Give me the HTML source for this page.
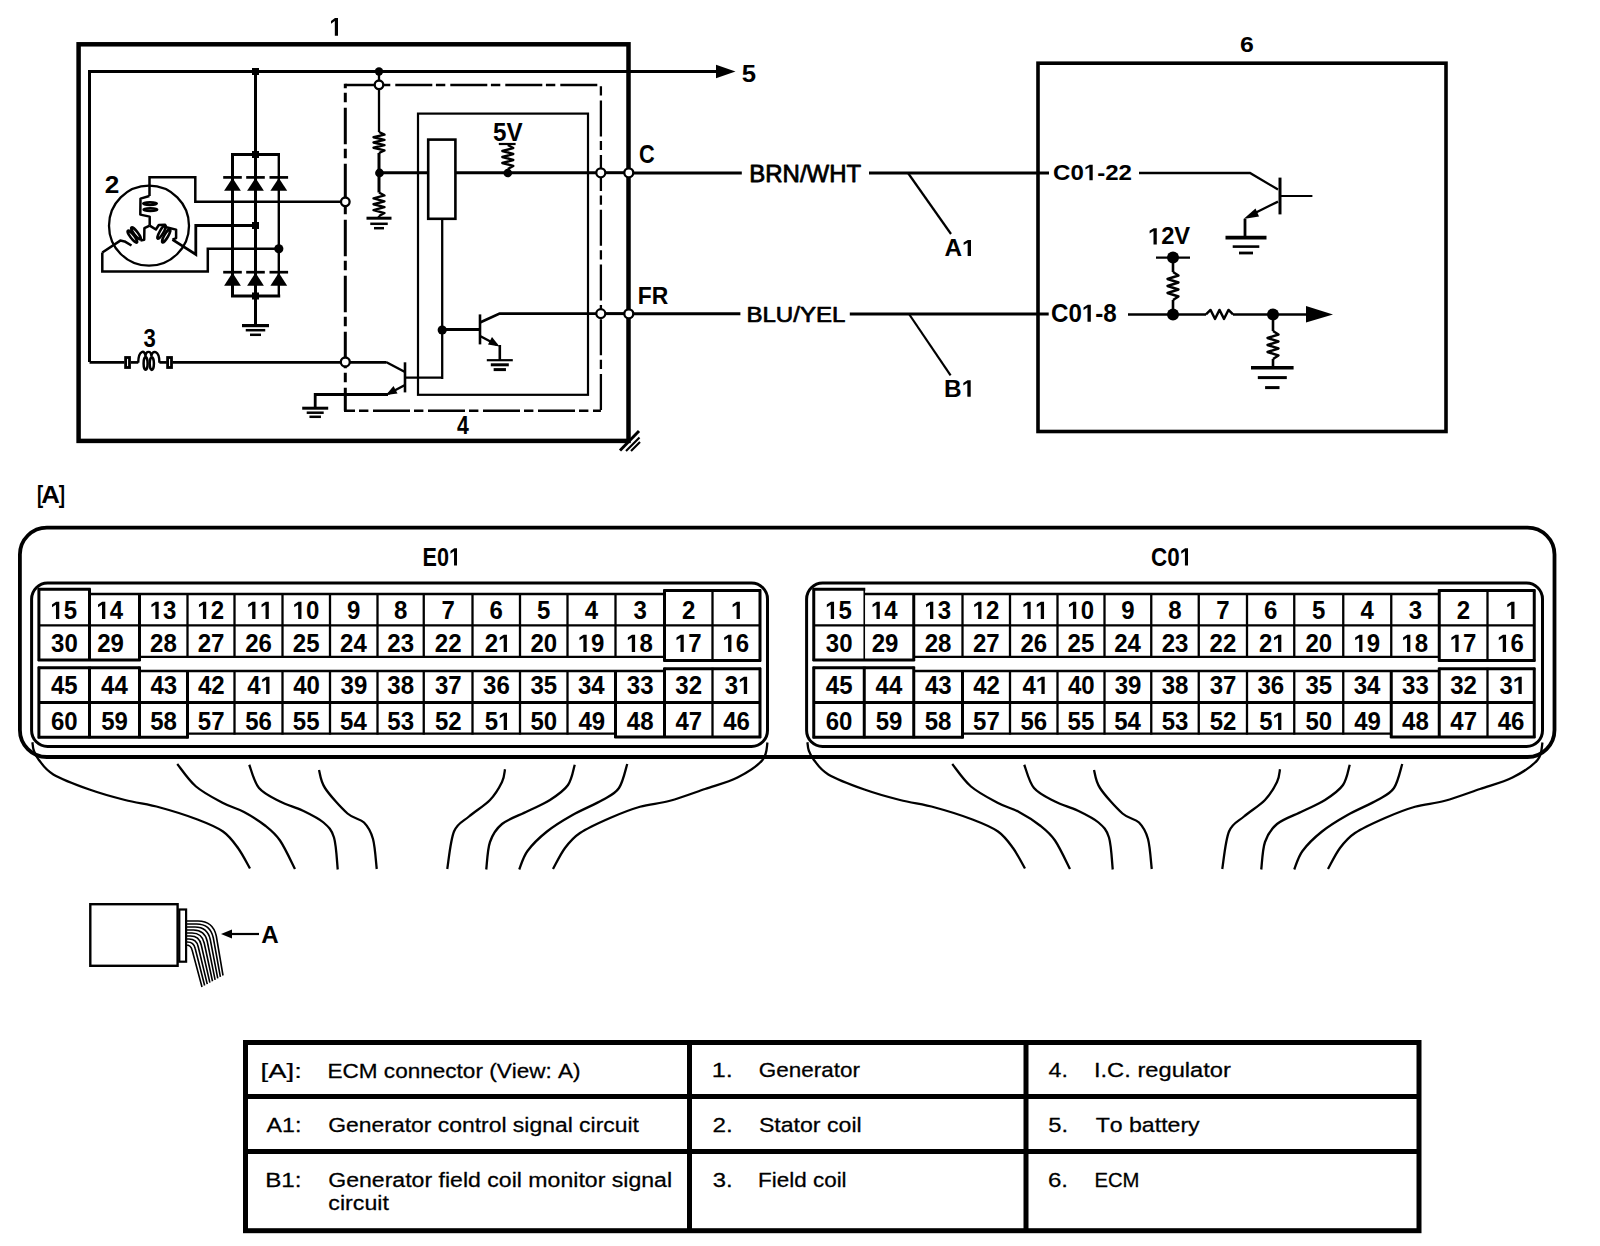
<!DOCTYPE html>
<html><head><meta charset="utf-8"><style>
html,body{margin:0;padding:0;background:#fff;width:1600px;height:1246px;overflow:hidden}
svg{display:block}
text{font-family:"Liberation Sans",sans-serif;fill:#000;stroke:none;font-kerning:none}
</style></head><body>
<svg width="1600" height="1246" viewBox="0 0 1600 1246" stroke="#000" fill="none">
<rect x="0" y="0" width="1600" height="1246" fill="#fff" stroke="none"/>
<rect x="78.6" y="44.3" width="549.9" height="396.6" stroke-width="4.5" rx="0" fill="none"/>
<g transform="translate(329.42 35.80) scale(0.8952 1)"><path d="M478 0V1170L140 959V1180L493 1409H759V0Z" transform="translate(0.00 0) scale(0.01263 -0.01263)" fill="#000" stroke="none"/></g>
<polyline points="89.5,362 89.5,71.5 718,71.5" stroke-width="3" stroke-linejoin="miter"/>
<polygon points="716,64.8 735.5,71.5 716,78.2" fill="#000" stroke="none"/>
<text x="0" y="0" font-size="24.65" font-weight="bold" transform="translate(741.71 81.76) scale(1.0436 1)">5</text>
<rect x="252" y="68" width="7" height="7" fill="#000" stroke="none"/>
<line x1="255.5" y1="71.5" x2="255.5" y2="154.5" stroke-width="3" stroke-linecap="butt"/>
<line x1="231" y1="154.5" x2="280" y2="154.5" stroke-width="3" stroke-linecap="butt"/>
<rect x="252" y="151" width="7" height="7" fill="#000" stroke="none"/>
<line x1="232.5" y1="154.5" x2="232.5" y2="296" stroke-width="3" stroke-linecap="butt"/>
<line x1="255.5" y1="154.5" x2="255.5" y2="325.5" stroke-width="3" stroke-linecap="butt"/>
<line x1="278.8" y1="154.5" x2="278.8" y2="296" stroke-width="2.4" stroke-linecap="butt"/>
<line x1="223.2" y1="177.4" x2="241.8" y2="177.4" stroke-width="2.7" stroke-linecap="butt"/>
<polygon points="232.5,178 224.1,190.8 240.9,190.8" fill="#000" stroke="none"/>
<line x1="223.2" y1="272.2" x2="241.8" y2="272.2" stroke-width="2.7" stroke-linecap="butt"/>
<polygon points="232.5,272.8 224.1,285.8 240.9,285.8" fill="#000" stroke="none"/>
<line x1="246.2" y1="177.4" x2="264.8" y2="177.4" stroke-width="2.7" stroke-linecap="butt"/>
<polygon points="255.5,178 247.1,190.8 263.9,190.8" fill="#000" stroke="none"/>
<line x1="246.2" y1="272.2" x2="264.8" y2="272.2" stroke-width="2.7" stroke-linecap="butt"/>
<polygon points="255.5,272.8 247.1,285.8 263.9,285.8" fill="#000" stroke="none"/>
<line x1="269.5" y1="177.4" x2="288.1" y2="177.4" stroke-width="2.7" stroke-linecap="butt"/>
<polygon points="278.8,178 270.4,190.8 287.2,190.8" fill="#000" stroke="none"/>
<line x1="269.5" y1="272.2" x2="288.1" y2="272.2" stroke-width="2.7" stroke-linecap="butt"/>
<polygon points="278.8,272.8 270.4,285.8 287.2,285.8" fill="#000" stroke="none"/>
<line x1="231" y1="296" x2="280.2" y2="296" stroke-width="3" stroke-linecap="butt"/>
<rect x="252" y="292.5" width="7" height="7" fill="#000" stroke="none"/>
<line x1="242" y1="325.6" x2="269" y2="325.6" stroke-width="3.2" stroke-linecap="butt"/>
<line x1="245.75" y1="330.2" x2="265.25" y2="330.2" stroke-width="2.5" stroke-linecap="butt"/>
<line x1="250" y1="334.8" x2="261" y2="334.8" stroke-width="2.5" stroke-linecap="butt"/>
<circle cx="149" cy="225.7" r="40" fill="none" stroke-width="2.3"/>
<text x="0" y="0" font-size="23.92" font-weight="bold" transform="translate(104.69 192.90) scale(1.0942 1)">2</text>
<polyline points="149.5,196 149.5,177.2 195.3,177.2 195.3,201.8 341,201.8" stroke-width="2.5" stroke-linejoin="miter"/>
<polyline points="172.5,239.6 195.8,254.4 195.8,225.5 255.5,225.5" stroke-width="2.8" stroke-linejoin="miter"/>
<rect x="252" y="222" width="7" height="7" fill="#000" stroke="none"/>
<polyline points="102.3,252.5 102.3,271.6 207.8,271.6 207.8,248.8 278.8,248.8" stroke-width="2.5" stroke-linejoin="miter"/>
<circle cx="278.8" cy="248.8" r="4.6" fill="#000" stroke="none"/>
<path d="M149.4,196 L140.5,198.6 L140.3,214.6 L149.7,216.6 L149.7,225.6" stroke-width="2.5" fill="none" stroke-linejoin="round"/>
<ellipse cx="150" cy="203.6" rx="6.8" ry="1.3" fill="none" stroke-width="2.5"/>
<ellipse cx="150.4" cy="209.6" rx="6.8" ry="1.4" fill="none" stroke-width="2.5"/>
<path d="M149.7,225.6 L144.4,228.2 L144.2,239.8 L140.5,240.5" stroke-width="2.5" fill="none" stroke-linejoin="round"/>
<ellipse cx="132.4" cy="236.6" rx="7.4" ry="1.9" transform="rotate(52 132.4 236.6)" fill="none" stroke-width="2.6"/>
<ellipse cx="136" cy="233.4" rx="7.4" ry="1.9" transform="rotate(52 136 233.4)" fill="none" stroke-width="2.6"/>
<path d="M131.5,245.5 L124.6,241.4 L120.3,240.6 L102.3,252.5" stroke-width="2.5" fill="none" stroke-linejoin="round"/>
<path d="M149.7,225.6 L155.9,229.5 L158.8,225 L165,224.8 L165.3,227 L176.1,229.6 L176.1,238.1 L172.5,239.6" stroke-width="2.5" fill="none" stroke-linejoin="round"/>
<ellipse cx="161.6" cy="232" rx="7.6" ry="1.9" transform="rotate(-60 161.6 232)" fill="none" stroke-width="2.6"/>
<ellipse cx="166.2" cy="235.8" rx="7.6" ry="1.9" transform="rotate(-60 166.2 235.8)" fill="none" stroke-width="2.6"/>
<polyline points="89.5,362.4 124.5,362.4" stroke-width="2.8" stroke-linejoin="miter"/>
<rect x="125.6" y="357.5" width="3.9" height="10" stroke-width="2.8" rx="0" fill="none"/>
<line x1="131" y1="362.4" x2="138.3" y2="362.4" stroke-width="2.7" stroke-linecap="butt"/>
<path d="M138.2,362.8 C138.4,349.5 145.2,349.5 145.5,356.5 C145.8,350.3 151.2,350.3 151.4,356.5 C151.8,349.5 159.6,350 159.4,362.8" stroke-width="2.4" fill="none" />
<ellipse cx="145.6" cy="363.4" rx="2.0" ry="6.3" fill="none" stroke-width="2.5"/>
<ellipse cx="151.8" cy="363.6" rx="2.1" ry="6.3" fill="none" stroke-width="2.5"/>
<line x1="159.4" y1="362.4" x2="166.8" y2="362.4" stroke-width="2.7" stroke-linecap="butt"/>
<rect x="167.6" y="357.5" width="3.9" height="10" stroke-width="2.8" rx="0" fill="none"/>
<line x1="172.5" y1="362.4" x2="386" y2="362.4" stroke-width="2.6" stroke-linecap="butt"/>
<text x="0" y="0" font-size="25.37" font-weight="bold" transform="translate(143.49 346.72) scale(0.8722 1)">3</text>
<path d="M345.3,85 H600.9" stroke-width="2.5" stroke-dasharray="37 3.6 9.4 5" stroke-dashoffset="5"/>
<path d="M345.3,83.8 V410.7" stroke-width="3" stroke-dasharray="36.4 4.6 9.4 5.6" stroke-dashoffset="32"/>
<path d="M600.9,85 V410.7" stroke-width="2.3" stroke-dasharray="36 4.5 9.2 5" stroke-dashoffset="39.3"/>
<path d="M344,410.7 H600.9" stroke-width="2.6" stroke-dasharray="37 4 9.4 4.6" stroke-dashoffset="26"/>
<circle cx="345.3" cy="201.8" r="4.3" fill="#fff" stroke-width="2.3"/>
<circle cx="345.3" cy="362" r="4.5" fill="#fff" stroke-width="2.3"/>
<rect x="418" y="113.6" width="170" height="281.2" stroke-width="2.2" rx="0" fill="none"/>
<line x1="379" y1="71.5" x2="379" y2="81" stroke-width="2.3" stroke-linecap="butt"/>
<circle cx="379" cy="71.5" r="4.2" fill="#000" stroke="none"/>
<circle cx="379" cy="84.8" r="4.3" fill="#fff" stroke-width="2.3"/>
<line x1="379" y1="89" x2="379" y2="132" stroke-width="2.3" stroke-linecap="butt"/>
<polyline points="379,132 384.5,134.62 373.5,137.25 384.5,139.88 373.5,142.5 384.5,145.12 373.5,147.75 384.5,150.38 379,153" stroke-width="2.4" stroke-linejoin="round"/>
<line x1="379" y1="153" x2="379" y2="192.5" stroke-width="3" stroke-linecap="butt"/>
<circle cx="379.5" cy="173" r="4.4" fill="#000" stroke="none"/>
<polyline points="379,192.5 384.5,195.44 373.5,198.38 384.5,201.31 373.5,204.25 384.5,207.19 373.5,210.12 384.5,213.06 379,216" stroke-width="2.4" stroke-linejoin="round"/>
<line x1="379" y1="216" x2="379" y2="218" stroke-width="2.5" stroke-linecap="butt"/>
<line x1="366.5" y1="218.2" x2="391.5" y2="218.2" stroke-width="3" stroke-linecap="butt"/>
<line x1="370.25" y1="223.8" x2="387.75" y2="223.8" stroke-width="2.5" stroke-linecap="butt"/>
<line x1="374" y1="228.2" x2="384" y2="228.2" stroke-width="2.5" stroke-linecap="butt"/>
<line x1="379" y1="172.7" x2="428" y2="172.7" stroke-width="3" stroke-linecap="butt"/>
<rect x="428.2" y="139.6" width="27.2" height="79.2" stroke-width="2.6" rx="0" fill="none"/>
<line x1="455.5" y1="172.7" x2="596" y2="172.7" stroke-width="3" stroke-linecap="butt"/>
<line x1="605.3" y1="172.7" x2="624.2" y2="172.7" stroke-width="3" stroke-linecap="butt"/>
<line x1="633.3" y1="172.9" x2="741.8" y2="172.9" stroke-width="3" stroke-linecap="butt"/>
<circle cx="507.8" cy="173" r="4.3" fill="#000" stroke="none"/>
<polyline points="507.8,145 513.3,148 502.3,151 513.3,154 502.3,157 513.3,160 502.3,163 513.3,166 507.8,169" stroke-width="2.4" stroke-linejoin="round"/>
<line x1="498.8" y1="144" x2="515.6" y2="144" stroke-width="2.2" stroke-linecap="butt"/>
<text x="0" y="0" font-size="25.22" font-weight="bold" transform="translate(493.06 140.95) scale(0.9597 1)">5V</text>
<circle cx="600.8" cy="172.8" r="4.5" fill="#fff" stroke-width="2.2"/>
<circle cx="628.8" cy="172.8" r="4.5" fill="#fff" stroke-width="2.3"/>
<text x="0" y="0" font-size="25.42" font-weight="bold" transform="translate(638.91 162.75) scale(0.8543 1)">C</text>
<line x1="442.2" y1="218.8" x2="442.2" y2="379" stroke-width="2.3" stroke-linecap="butt"/>
<circle cx="442.2" cy="330" r="4.6" fill="#000" stroke="none"/>
<line x1="442.2" y1="329.5" x2="480" y2="329.5" stroke-width="3" stroke-linecap="butt"/>
<line x1="480" y1="314.4" x2="480" y2="344.4" stroke-width="2.6" stroke-linecap="butt"/>
<polyline points="480,322.5 499.6,313.6 596,313.6" stroke-width="2.8" stroke-linejoin="miter"/>
<line x1="605.3" y1="313.6" x2="624.2" y2="313.6" stroke-width="3" stroke-linecap="butt"/>
<line x1="633.3" y1="313.8" x2="740.4" y2="313.8" stroke-width="3" stroke-linecap="butt"/>
<circle cx="600.8" cy="313.6" r="4.5" fill="#fff" stroke-width="2.2"/>
<circle cx="628.8" cy="313.8" r="4.5" fill="#fff" stroke-width="2.3"/>
<text x="0" y="0" font-size="23.40" font-weight="bold" transform="translate(637.77 303.60) scale(0.9777 1)">FR</text>
<line x1="480" y1="336" x2="497" y2="345" stroke-width="2.5" stroke-linecap="butt"/>
<polygon points="499.5,346.5 488,344.5 492,337" fill="#000" stroke="none"/>
<line x1="499.8" y1="345" x2="499.8" y2="360" stroke-width="2.6" stroke-linecap="butt"/>
<line x1="486.8" y1="360.2" x2="512.8" y2="360.2" stroke-width="2.2" stroke-linecap="butt"/>
<line x1="490.8" y1="364.8" x2="508.8" y2="364.8" stroke-width="3" stroke-linecap="butt"/>
<line x1="493.65" y1="369.6" x2="505.95" y2="369.6" stroke-width="3" stroke-linecap="butt"/>
<line x1="405" y1="362.3" x2="405" y2="392.4" stroke-width="2.6" stroke-linecap="butt"/>
<polyline points="386,362 405,372" stroke-width="2.5" stroke-linejoin="miter"/>
<line x1="405" y1="377.7" x2="442.2" y2="377.7" stroke-width="2.3" stroke-linecap="butt"/>
<line x1="405" y1="385" x2="388" y2="394" stroke-width="2.5" stroke-linecap="butt"/>
<polygon points="386,395 397.5,393.5 393.5,386" fill="#000" stroke="none"/>
<polyline points="388,394.5 315.2,394.5 315.2,408" stroke-width="2.8" stroke-linejoin="miter"/>
<line x1="302.2" y1="408.2" x2="328.2" y2="408.2" stroke-width="3" stroke-linecap="butt"/>
<line x1="306.7" y1="412.7" x2="323.7" y2="412.7" stroke-width="2.5" stroke-linecap="butt"/>
<line x1="309.45" y1="416.8" x2="320.95" y2="416.8" stroke-width="2.5" stroke-linecap="butt"/>
<text x="0" y="0" font-size="25.87" font-weight="bold" transform="translate(457.08 433.80) scale(0.8226 1)">4</text>
<line x1="620" y1="450.5" x2="639" y2="431" stroke-width="3" stroke-linecap="butt"/>
<line x1="626" y1="451" x2="639.5" y2="437.5" stroke-width="2.2" stroke-linecap="butt"/>
<line x1="631" y1="451" x2="640" y2="442" stroke-width="2.2" stroke-linecap="butt"/>
<text x="0" y="0" font-size="24.78" font-weight="normal" style="stroke:#000;stroke-width:0.83;stroke-linejoin:round" transform="translate(749.33 182.36) scale(0.9669 1)">BRN/WHT</text>
<line x1="869" y1="173" x2="1049" y2="173" stroke-width="3" stroke-linecap="butt"/>
<line x1="908" y1="173" x2="951" y2="234" stroke-width="2.2" stroke-linecap="butt"/>
<g transform="translate(944.39 256.00) scale(1.0469 1)"><text x="0.00" y="0" font-size="23.26" font-weight="bold">A</text><path d="M478 0V1170L140 959V1180L493 1409H759V0Z" transform="translate(16.79 0) scale(0.01136 -0.01136)" fill="#000" stroke="none"/></g>
<text x="0" y="0" font-size="22.06" font-weight="normal" style="stroke:#000;stroke-width:0.73;stroke-linejoin:round" transform="translate(746.43 322.38) scale(1.0908 1)">BLU/YEL</text>
<line x1="849.8" y1="314" x2="1048.7" y2="314" stroke-width="3" stroke-linecap="butt"/>
<line x1="909" y1="314" x2="950.6" y2="375.3" stroke-width="2.2" stroke-linecap="butt"/>
<g transform="translate(944.07 396.80) scale(1.0100 1)"><text x="0.00" y="0" font-size="24.13" font-weight="bold">B</text><path d="M478 0V1170L140 959V1180L493 1409H759V0Z" transform="translate(17.42 0) scale(0.01178 -0.01178)" fill="#000" stroke="none"/></g>
<rect x="1038" y="63.2" width="408" height="368.3" stroke-width="3.6" rx="0" fill="none"/>
<text x="0" y="0" font-size="21.19" font-weight="bold" transform="translate(1240.09 51.79) scale(1.1717 1)">6</text>
<g transform="translate(1053.01 180.18) scale(1.0652 1)"><text x="0.00 16.32 41.46 48.98 61.55" y="0" font-size="22.60" font-weight="bold">C0-22</text><path d="M478 0V1170L140 959V1180L493 1409H759V0Z" transform="translate(28.89 0) scale(0.01103 -0.01103)" fill="#000" stroke="none"/></g>
<polyline points="1139,173 1250,173 1278,189.5" stroke-width="2.3" stroke-linejoin="miter"/>
<line x1="1280" y1="177.6" x2="1280" y2="214.4" stroke-width="3" stroke-linecap="butt"/>
<line x1="1280" y1="196" x2="1312.4" y2="196" stroke-width="2.2" stroke-linecap="butt"/>
<line x1="1278" y1="201.6" x2="1252" y2="214.5" stroke-width="2.3" stroke-linecap="butt"/>
<polygon points="1243.5,219 1255.5,208.5 1259,216.5" fill="#000" stroke="none"/>
<line x1="1245" y1="219" x2="1245" y2="237.6" stroke-width="2.8" stroke-linecap="butt"/>
<line x1="1225.5" y1="237.6" x2="1266.5" y2="237.6" stroke-width="3.6" stroke-linecap="butt"/>
<line x1="1232.7" y1="246.6" x2="1259.3" y2="246.6" stroke-width="2.6" stroke-linecap="butt"/>
<line x1="1239" y1="253" x2="1253" y2="253" stroke-width="2.8" stroke-linecap="butt"/>
<g transform="translate(1147.98 244.40) scale(1.0094 1)"><text x="13.06 26.13" y="0" font-size="23.49" font-weight="bold">2V</text><path d="M478 0V1170L140 959V1180L493 1409H759V0Z" transform="translate(0.00 0) scale(0.01147 -0.01147)" fill="#000" stroke="none"/></g>
<line x1="1156" y1="257.6" x2="1190" y2="257.6" stroke-width="2.1" stroke-linecap="butt"/>
<circle cx="1173" cy="257.6" r="6" fill="#000" stroke="none"/>
<line x1="1173" y1="257.6" x2="1173" y2="272" stroke-width="2.6" stroke-linecap="butt"/>
<polyline points="1173,272 1178.5,275.5 1167.5,279 1178.5,282.5 1167.5,286 1178.5,289.5 1167.5,293 1178.5,296.5 1173,300" stroke-width="2.4" stroke-linejoin="round"/>
<line x1="1173" y1="300" x2="1173" y2="314" stroke-width="2.6" stroke-linecap="butt"/>
<g transform="translate(1051.01 321.76) scale(0.9709 1)"><text x="0.00 17.95 45.60 53.88" y="0" font-size="24.86" font-weight="bold">C0-8</text><path d="M478 0V1170L140 959V1180L493 1409H759V0Z" transform="translate(31.78 0) scale(0.01214 -0.01214)" fill="#000" stroke="none"/></g>
<line x1="1128" y1="314.4" x2="1206" y2="314.4" stroke-width="2.5" stroke-linecap="butt"/>
<polyline points="1206,314.4 1210.5,309.9 1215,318.9 1219.5,309.9 1224,318.9 1228.5,309.9 1233,314.4" stroke-width="2.4" stroke-linejoin="round"/>
<line x1="1233" y1="314.4" x2="1307" y2="314.4" stroke-width="2.5" stroke-linecap="butt"/>
<polygon points="1306,306 1333,314.4 1306,322.4" fill="#000" stroke="none"/>
<circle cx="1173" cy="314.4" r="6" fill="#000" stroke="none"/>
<circle cx="1273" cy="314.4" r="6" fill="#000" stroke="none"/>
<line x1="1273" y1="314.4" x2="1273" y2="331" stroke-width="2.6" stroke-linecap="butt"/>
<polyline points="1273,331 1278.5,334.5 1267.5,338 1278.5,341.5 1267.5,345 1278.5,348.5 1267.5,352 1278.5,355.5 1273,359" stroke-width="2.4" stroke-linejoin="round"/>
<line x1="1273" y1="359" x2="1273" y2="368" stroke-width="2.6" stroke-linecap="butt"/>
<line x1="1251" y1="367.8" x2="1293.6" y2="367.8" stroke-width="3.6" stroke-linecap="butt"/>
<line x1="1257.8" y1="377.6" x2="1286.8" y2="377.6" stroke-width="3" stroke-linecap="butt"/>
<line x1="1265.1" y1="387.6" x2="1279.5" y2="387.6" stroke-width="3" stroke-linecap="butt"/>
<text x="0" y="0" font-size="23.39" font-weight="bold" transform="translate(36.96 502.95) scale(0.7917 1)">[</text>
<text x="0" y="0" font-size="24.42" font-weight="bold" transform="translate(41.26 503.10) scale(1.0560 1)">A</text>
<text x="0" y="0" font-size="23.39" font-weight="bold" transform="translate(58.77 502.95) scale(0.8078 1)">]</text>
<rect x="19.9" y="527.6" width="1534.6" height="229.4" stroke-width="3.8" rx="27" fill="none"/>
<g transform="translate(422.55 565.55) scale(0.8597 1)"><text x="0.00 16.77" y="0" font-size="25.14" font-weight="bold">E0</text><path d="M478 0V1170L140 959V1180L493 1409H759V0Z" transform="translate(30.75 0) scale(0.01228 -0.01228)" fill="#000" stroke="none"/></g>
<g transform="translate(1151.08 565.55) scale(0.8906 1)"><text x="0.00 18.16" y="0" font-size="25.14" font-weight="bold">C0</text><path d="M478 0V1170L140 959V1180L493 1409H759V0Z" transform="translate(32.14 0) scale(0.01228 -0.01228)" fill="#000" stroke="none"/></g>
<rect x="31.6" y="583" width="735.9" height="163.4" stroke-width="3" rx="16" fill="none"/>
<line x1="37.9" y1="589.3" x2="90.5" y2="589.3" stroke-width="3" stroke-linecap="butt"/>
<line x1="89.5" y1="594" x2="664.5" y2="594" stroke-width="2.3" stroke-linecap="butt"/>
<line x1="663.5" y1="590.5" x2="761" y2="590.5" stroke-width="3" stroke-linecap="butt"/>
<line x1="38.9" y1="625.3" x2="760" y2="625.3" stroke-width="2.3" stroke-linecap="butt"/>
<line x1="37.9" y1="660" x2="140.5" y2="660" stroke-width="3" stroke-linecap="butt"/>
<line x1="139.5" y1="656.8" x2="664.5" y2="656.8" stroke-width="2.3" stroke-linecap="butt"/>
<line x1="663.5" y1="660.5" x2="761" y2="660.5" stroke-width="3" stroke-linecap="butt"/>
<line x1="38.9" y1="588.3" x2="38.9" y2="661" stroke-width="3" stroke-linecap="butt"/>
<line x1="89.5" y1="588.3" x2="89.5" y2="661" stroke-width="3" stroke-linecap="butt"/>
<line x1="139.5" y1="593" x2="139.5" y2="661" stroke-width="3" stroke-linecap="butt"/>
<line x1="187.5" y1="593" x2="187.5" y2="657.8" stroke-width="2.3" stroke-linecap="butt"/>
<line x1="234.5" y1="593" x2="234.5" y2="657.8" stroke-width="2.3" stroke-linecap="butt"/>
<line x1="282.5" y1="593" x2="282.5" y2="657.8" stroke-width="2.3" stroke-linecap="butt"/>
<line x1="330" y1="593" x2="330" y2="657.8" stroke-width="2.3" stroke-linecap="butt"/>
<line x1="377.5" y1="593" x2="377.5" y2="657.8" stroke-width="2.3" stroke-linecap="butt"/>
<line x1="423.75" y1="593" x2="423.75" y2="657.8" stroke-width="2.3" stroke-linecap="butt"/>
<line x1="472.5" y1="593" x2="472.5" y2="657.8" stroke-width="2.3" stroke-linecap="butt"/>
<line x1="520" y1="593" x2="520" y2="657.8" stroke-width="2.3" stroke-linecap="butt"/>
<line x1="567.5" y1="593" x2="567.5" y2="657.8" stroke-width="2.3" stroke-linecap="butt"/>
<line x1="615.5" y1="593" x2="615.5" y2="657.8" stroke-width="2.3" stroke-linecap="butt"/>
<line x1="664.5" y1="589.5" x2="664.5" y2="661.5" stroke-width="3" stroke-linecap="butt"/>
<line x1="712.5" y1="589.5" x2="712.5" y2="661.5" stroke-width="2.3" stroke-linecap="butt"/>
<line x1="760" y1="589.5" x2="760" y2="661.5" stroke-width="3" stroke-linecap="butt"/>
<line x1="37.9" y1="667.7" x2="140.5" y2="667.7" stroke-width="3" stroke-linecap="butt"/>
<line x1="139.5" y1="671" x2="664.5" y2="671" stroke-width="2.3" stroke-linecap="butt"/>
<line x1="663.5" y1="668.8" x2="761" y2="668.8" stroke-width="3" stroke-linecap="butt"/>
<line x1="38.9" y1="702.6" x2="760" y2="702.6" stroke-width="3" stroke-linecap="butt"/>
<line x1="37.9" y1="737.3" x2="188.5" y2="737.3" stroke-width="3" stroke-linecap="butt"/>
<line x1="187.5" y1="733.6" x2="615.5" y2="733.6" stroke-width="2.3" stroke-linecap="butt"/>
<line x1="614.5" y1="737" x2="761" y2="737" stroke-width="3" stroke-linecap="butt"/>
<line x1="38.9" y1="666.7" x2="38.9" y2="738.3" stroke-width="3" stroke-linecap="butt"/>
<line x1="89.5" y1="666.7" x2="89.5" y2="738.3" stroke-width="3" stroke-linecap="butt"/>
<line x1="139.5" y1="666.7" x2="139.5" y2="738.3" stroke-width="3" stroke-linecap="butt"/>
<line x1="187.5" y1="670" x2="187.5" y2="738.3" stroke-width="3" stroke-linecap="butt"/>
<line x1="234.5" y1="670" x2="234.5" y2="734.6" stroke-width="2.3" stroke-linecap="butt"/>
<line x1="282.5" y1="670" x2="282.5" y2="734.6" stroke-width="2.3" stroke-linecap="butt"/>
<line x1="330" y1="670" x2="330" y2="734.6" stroke-width="2.3" stroke-linecap="butt"/>
<line x1="377.5" y1="670" x2="377.5" y2="734.6" stroke-width="2.3" stroke-linecap="butt"/>
<line x1="423.75" y1="670" x2="423.75" y2="734.6" stroke-width="2.3" stroke-linecap="butt"/>
<line x1="472.5" y1="670" x2="472.5" y2="734.6" stroke-width="2.3" stroke-linecap="butt"/>
<line x1="520" y1="670" x2="520" y2="734.6" stroke-width="2.3" stroke-linecap="butt"/>
<line x1="567.5" y1="670" x2="567.5" y2="734.6" stroke-width="2.3" stroke-linecap="butt"/>
<line x1="615.5" y1="670" x2="615.5" y2="738" stroke-width="3" stroke-linecap="butt"/>
<line x1="664.5" y1="667.8" x2="664.5" y2="738" stroke-width="3" stroke-linecap="butt"/>
<line x1="712.5" y1="667.8" x2="712.5" y2="738" stroke-width="2.3" stroke-linecap="butt"/>
<line x1="760" y1="667.8" x2="760" y2="738" stroke-width="3" stroke-linecap="butt"/>
<g transform="translate(50.37 619.00) scale(0.9600 1)"><text x="13.90" y="0" font-size="25.00" font-weight="bold">5</text><path d="M478 0V1170L140 959V1180L493 1409H759V0Z" transform="translate(0.00 0) scale(0.01221 -0.01221)" fill="#000" stroke="none"/></g>
<g transform="translate(96.40 619.00) scale(0.9600 1)"><text x="13.90" y="0" font-size="25.00" font-weight="bold">4</text><path d="M478 0V1170L140 959V1180L493 1409H759V0Z" transform="translate(0.00 0) scale(0.01221 -0.01221)" fill="#000" stroke="none"/></g>
<g transform="translate(149.77 619.00) scale(0.9600 1)"><text x="13.90" y="0" font-size="25.00" font-weight="bold">3</text><path d="M478 0V1170L140 959V1180L493 1409H759V0Z" transform="translate(0.00 0) scale(0.01221 -0.01221)" fill="#000" stroke="none"/></g>
<g transform="translate(197.31 619.00) scale(0.9600 1)"><text x="13.90" y="0" font-size="25.00" font-weight="bold">2</text><path d="M478 0V1170L140 959V1180L493 1409H759V0Z" transform="translate(0.00 0) scale(0.01221 -0.01221)" fill="#000" stroke="none"/></g>
<g transform="translate(246.56 619.00) scale(0.9600 1)"><path d="M478 0V1170L140 959V1180L493 1409H759V0Z" transform="translate(0.00 0) scale(0.01221 -0.01221)" fill="#000" stroke="none"/><path d="M478 0V1170L140 959V1180L493 1409H759V0Z" transform="translate(13.90 0) scale(0.01221 -0.01221)" fill="#000" stroke="none"/></g>
<g transform="translate(292.57 619.00) scale(0.9600 1)"><text x="13.90" y="0" font-size="25.00" font-weight="bold">0</text><path d="M478 0V1170L140 959V1180L493 1409H759V0Z" transform="translate(0.00 0) scale(0.01221 -0.01221)" fill="#000" stroke="none"/></g>
<text x="0" y="0" font-size="25.00" font-weight="bold" transform="translate(347.11 619.00) scale(0.9600 1)">9</text>
<text x="0" y="0" font-size="25.00" font-weight="bold" transform="translate(393.94 619.00) scale(0.9600 1)">8</text>
<text x="0" y="0" font-size="25.00" font-weight="bold" transform="translate(441.46 619.00) scale(0.9600 1)">7</text>
<text x="0" y="0" font-size="25.00" font-weight="bold" transform="translate(489.57 619.00) scale(0.9600 1)">6</text>
<text x="0" y="0" font-size="25.00" font-weight="bold" transform="translate(537.04 619.00) scale(0.9600 1)">5</text>
<text x="0" y="0" font-size="25.00" font-weight="bold" transform="translate(584.71 619.00) scale(0.9600 1)">4</text>
<text x="0" y="0" font-size="25.00" font-weight="bold" transform="translate(633.48 619.00) scale(0.9600 1)">3</text>
<text x="0" y="0" font-size="25.00" font-weight="bold" transform="translate(681.89 619.00) scale(0.9600 1)">2</text>
<g transform="translate(730.98 619.00) scale(0.9600 1)"><path d="M478 0V1170L140 959V1180L493 1409H759V0Z" transform="translate(0.00 0) scale(0.01221 -0.01221)" fill="#000" stroke="none"/></g>
<text x="0" y="0" font-size="25.00" font-weight="bold" transform="translate(51.07 652.00) scale(0.9600 1)">30</text>
<text x="0" y="0" font-size="25.00" font-weight="bold" transform="translate(97.18 652.00) scale(0.9600 1)">29</text>
<text x="0" y="0" font-size="25.00" font-weight="bold" transform="translate(150.11 652.00) scale(0.9600 1)">28</text>
<text x="0" y="0" font-size="25.00" font-weight="bold" transform="translate(197.76 652.00) scale(0.9600 1)">27</text>
<text x="0" y="0" font-size="25.00" font-weight="bold" transform="translate(245.17 652.00) scale(0.9600 1)">26</text>
<text x="0" y="0" font-size="25.00" font-weight="bold" transform="translate(292.82 652.00) scale(0.9600 1)">25</text>
<text x="0" y="0" font-size="25.00" font-weight="bold" transform="translate(340.05 652.00) scale(0.9600 1)">24</text>
<text x="0" y="0" font-size="25.00" font-weight="bold" transform="translate(387.29 652.00) scale(0.9600 1)">23</text>
<text x="0" y="0" font-size="25.00" font-weight="bold" transform="translate(434.84 652.00) scale(0.9600 1)">22</text>
<g transform="translate(484.71 652.00) scale(0.9600 1)"><text x="0.00" y="0" font-size="25.00" font-weight="bold">2</text><path d="M478 0V1170L140 959V1180L493 1409H759V0Z" transform="translate(13.90 0) scale(0.01221 -0.01221)" fill="#000" stroke="none"/></g>
<text x="0" y="0" font-size="25.00" font-weight="bold" transform="translate(530.48 652.00) scale(0.9600 1)">20</text>
<g transform="translate(577.78 652.00) scale(0.9600 1)"><text x="13.90" y="0" font-size="25.00" font-weight="bold">9</text><path d="M478 0V1170L140 959V1180L493 1409H759V0Z" transform="translate(0.00 0) scale(0.01221 -0.01221)" fill="#000" stroke="none"/></g>
<g transform="translate(626.20 652.00) scale(0.9600 1)"><text x="13.90" y="0" font-size="25.00" font-weight="bold">8</text><path d="M478 0V1170L140 959V1180L493 1409H759V0Z" transform="translate(0.00 0) scale(0.01221 -0.01221)" fill="#000" stroke="none"/></g>
<g transform="translate(674.86 652.00) scale(0.9600 1)"><text x="13.90" y="0" font-size="25.00" font-weight="bold">7</text><path d="M478 0V1170L140 959V1180L493 1409H759V0Z" transform="translate(0.00 0) scale(0.01221 -0.01221)" fill="#000" stroke="none"/></g>
<g transform="translate(722.52 652.00) scale(0.9600 1)"><text x="13.90" y="0" font-size="25.00" font-weight="bold">6</text><path d="M478 0V1170L140 959V1180L493 1409H759V0Z" transform="translate(0.00 0) scale(0.01221 -0.01221)" fill="#000" stroke="none"/></g>
<text x="0" y="0" font-size="25.00" font-weight="bold" transform="translate(51.00 694.00) scale(0.9600 1)">45</text>
<text x="0" y="0" font-size="25.00" font-weight="bold" transform="translate(101.04 694.00) scale(0.9600 1)">44</text>
<text x="0" y="0" font-size="25.00" font-weight="bold" transform="translate(150.40 694.00) scale(0.9600 1)">43</text>
<text x="0" y="0" font-size="25.00" font-weight="bold" transform="translate(197.95 694.00) scale(0.9600 1)">42</text>
<g transform="translate(247.20 694.00) scale(0.9600 1)"><text x="0.00" y="0" font-size="25.00" font-weight="bold">4</text><path d="M478 0V1170L140 959V1180L493 1409H759V0Z" transform="translate(13.90 0) scale(0.01221 -0.01221)" fill="#000" stroke="none"/></g>
<text x="0" y="0" font-size="25.00" font-weight="bold" transform="translate(293.21 694.00) scale(0.9600 1)">40</text>
<text x="0" y="0" font-size="25.00" font-weight="bold" transform="translate(340.57 694.00) scale(0.9600 1)">39</text>
<text x="0" y="0" font-size="25.00" font-weight="bold" transform="translate(387.37 694.00) scale(0.9600 1)">38</text>
<text x="0" y="0" font-size="25.00" font-weight="bold" transform="translate(435.03 694.00) scale(0.9600 1)">37</text>
<text x="0" y="0" font-size="25.00" font-weight="bold" transform="translate(483.06 694.00) scale(0.9600 1)">36</text>
<text x="0" y="0" font-size="25.00" font-weight="bold" transform="translate(530.46 694.00) scale(0.9600 1)">35</text>
<text x="0" y="0" font-size="25.00" font-weight="bold" transform="translate(577.94 694.00) scale(0.9600 1)">34</text>
<text x="0" y="0" font-size="25.00" font-weight="bold" transform="translate(626.81 694.00) scale(0.9600 1)">33</text>
<text x="0" y="0" font-size="25.00" font-weight="bold" transform="translate(675.36 694.00) scale(0.9600 1)">32</text>
<g transform="translate(724.85 694.00) scale(0.9600 1)"><text x="0.00" y="0" font-size="25.00" font-weight="bold">3</text><path d="M478 0V1170L140 959V1180L493 1409H759V0Z" transform="translate(13.90 0) scale(0.01221 -0.01221)" fill="#000" stroke="none"/></g>
<text x="0" y="0" font-size="25.00" font-weight="bold" transform="translate(50.91 730.00) scale(0.9600 1)">60</text>
<text x="0" y="0" font-size="25.00" font-weight="bold" transform="translate(101.23 730.00) scale(0.9600 1)">59</text>
<text x="0" y="0" font-size="25.00" font-weight="bold" transform="translate(150.15 730.00) scale(0.9600 1)">58</text>
<text x="0" y="0" font-size="25.00" font-weight="bold" transform="translate(197.81 730.00) scale(0.9600 1)">57</text>
<text x="0" y="0" font-size="25.00" font-weight="bold" transform="translate(245.22 730.00) scale(0.9600 1)">56</text>
<text x="0" y="0" font-size="25.00" font-weight="bold" transform="translate(292.87 730.00) scale(0.9600 1)">55</text>
<text x="0" y="0" font-size="25.00" font-weight="bold" transform="translate(340.10 730.00) scale(0.9600 1)">54</text>
<text x="0" y="0" font-size="25.00" font-weight="bold" transform="translate(387.34 730.00) scale(0.9600 1)">53</text>
<text x="0" y="0" font-size="25.00" font-weight="bold" transform="translate(434.89 730.00) scale(0.9600 1)">52</text>
<g transform="translate(484.76 730.00) scale(0.9600 1)"><text x="0.00" y="0" font-size="25.00" font-weight="bold">5</text><path d="M478 0V1170L140 959V1180L493 1409H759V0Z" transform="translate(13.90 0) scale(0.01221 -0.01221)" fill="#000" stroke="none"/></g>
<text x="0" y="0" font-size="25.00" font-weight="bold" transform="translate(530.53 730.00) scale(0.9600 1)">50</text>
<text x="0" y="0" font-size="25.00" font-weight="bold" transform="translate(578.42 730.00) scale(0.9600 1)">49</text>
<text x="0" y="0" font-size="25.00" font-weight="bold" transform="translate(626.84 730.00) scale(0.9600 1)">48</text>
<text x="0" y="0" font-size="25.00" font-weight="bold" transform="translate(675.50 730.00) scale(0.9600 1)">47</text>
<text x="0" y="0" font-size="25.00" font-weight="bold" transform="translate(723.15 730.00) scale(0.9600 1)">46</text>
<rect x="806.6" y="583" width="735.9" height="163.4" stroke-width="3" rx="16" fill="none"/>
<line x1="812.75" y1="589.3" x2="865.25" y2="589.3" stroke-width="3" stroke-linecap="butt"/>
<line x1="864.25" y1="594" x2="1439.25" y2="594" stroke-width="2.3" stroke-linecap="butt"/>
<line x1="1438.25" y1="590.5" x2="1535.25" y2="590.5" stroke-width="3" stroke-linecap="butt"/>
<line x1="813.75" y1="625.3" x2="1534.25" y2="625.3" stroke-width="2.3" stroke-linecap="butt"/>
<line x1="812.75" y1="660" x2="914.75" y2="660" stroke-width="3" stroke-linecap="butt"/>
<line x1="913.75" y1="656.8" x2="1439.25" y2="656.8" stroke-width="2.3" stroke-linecap="butt"/>
<line x1="1438.25" y1="660.5" x2="1535.25" y2="660.5" stroke-width="3" stroke-linecap="butt"/>
<line x1="813.75" y1="588.3" x2="813.75" y2="661" stroke-width="3" stroke-linecap="butt"/>
<line x1="864.25" y1="588.3" x2="864.25" y2="661" stroke-width="1.6" stroke-linecap="butt"/>
<line x1="913.75" y1="593" x2="913.75" y2="661" stroke-width="3" stroke-linecap="butt"/>
<line x1="962.5" y1="593" x2="962.5" y2="657.8" stroke-width="2.3" stroke-linecap="butt"/>
<line x1="1010" y1="593" x2="1010" y2="657.8" stroke-width="2.3" stroke-linecap="butt"/>
<line x1="1057.5" y1="593" x2="1057.5" y2="657.8" stroke-width="2.3" stroke-linecap="butt"/>
<line x1="1104.5" y1="593" x2="1104.5" y2="657.8" stroke-width="2.3" stroke-linecap="butt"/>
<line x1="1151.25" y1="593" x2="1151.25" y2="657.8" stroke-width="2.3" stroke-linecap="butt"/>
<line x1="1198.75" y1="593" x2="1198.75" y2="657.8" stroke-width="2.3" stroke-linecap="butt"/>
<line x1="1247" y1="593" x2="1247" y2="657.8" stroke-width="2.3" stroke-linecap="butt"/>
<line x1="1294.25" y1="593" x2="1294.25" y2="657.8" stroke-width="2.3" stroke-linecap="butt"/>
<line x1="1343.25" y1="593" x2="1343.25" y2="657.8" stroke-width="2.3" stroke-linecap="butt"/>
<line x1="1391.25" y1="593" x2="1391.25" y2="657.8" stroke-width="2.3" stroke-linecap="butt"/>
<line x1="1439.25" y1="589.5" x2="1439.25" y2="661.5" stroke-width="3" stroke-linecap="butt"/>
<line x1="1487.5" y1="589.5" x2="1487.5" y2="661.5" stroke-width="2.3" stroke-linecap="butt"/>
<line x1="1534.25" y1="589.5" x2="1534.25" y2="661.5" stroke-width="3" stroke-linecap="butt"/>
<line x1="812.75" y1="667.7" x2="914.75" y2="667.7" stroke-width="3" stroke-linecap="butt"/>
<line x1="913.75" y1="671" x2="1439.25" y2="671" stroke-width="2.3" stroke-linecap="butt"/>
<line x1="1438.25" y1="668.8" x2="1535.25" y2="668.8" stroke-width="3" stroke-linecap="butt"/>
<line x1="813.75" y1="702.6" x2="1534.25" y2="702.6" stroke-width="3" stroke-linecap="butt"/>
<line x1="812.75" y1="737.3" x2="963.5" y2="737.3" stroke-width="3" stroke-linecap="butt"/>
<line x1="962.5" y1="733.6" x2="1391.25" y2="733.6" stroke-width="2.3" stroke-linecap="butt"/>
<line x1="1390.25" y1="737" x2="1535.25" y2="737" stroke-width="3" stroke-linecap="butt"/>
<line x1="813.75" y1="666.7" x2="813.75" y2="738.3" stroke-width="3" stroke-linecap="butt"/>
<line x1="864.25" y1="666.7" x2="864.25" y2="738.3" stroke-width="3" stroke-linecap="butt"/>
<line x1="913.75" y1="666.7" x2="913.75" y2="738.3" stroke-width="3" stroke-linecap="butt"/>
<line x1="962.5" y1="670" x2="962.5" y2="738.3" stroke-width="3" stroke-linecap="butt"/>
<line x1="1010" y1="670" x2="1010" y2="734.6" stroke-width="2.3" stroke-linecap="butt"/>
<line x1="1057.5" y1="670" x2="1057.5" y2="734.6" stroke-width="2.3" stroke-linecap="butt"/>
<line x1="1104.5" y1="670" x2="1104.5" y2="734.6" stroke-width="2.3" stroke-linecap="butt"/>
<line x1="1151.25" y1="670" x2="1151.25" y2="734.6" stroke-width="2.3" stroke-linecap="butt"/>
<line x1="1198.75" y1="670" x2="1198.75" y2="734.6" stroke-width="2.3" stroke-linecap="butt"/>
<line x1="1247" y1="670" x2="1247" y2="734.6" stroke-width="2.3" stroke-linecap="butt"/>
<line x1="1294.25" y1="670" x2="1294.25" y2="734.6" stroke-width="2.3" stroke-linecap="butt"/>
<line x1="1343.25" y1="670" x2="1343.25" y2="734.6" stroke-width="2.3" stroke-linecap="butt"/>
<line x1="1391.25" y1="670" x2="1391.25" y2="738" stroke-width="3" stroke-linecap="butt"/>
<line x1="1439.25" y1="667.8" x2="1439.25" y2="738" stroke-width="3" stroke-linecap="butt"/>
<line x1="1487.5" y1="667.8" x2="1487.5" y2="738" stroke-width="2.3" stroke-linecap="butt"/>
<line x1="1534.25" y1="667.8" x2="1534.25" y2="738" stroke-width="3" stroke-linecap="butt"/>
<g transform="translate(825.17 619.00) scale(0.9600 1)"><text x="13.90" y="0" font-size="25.00" font-weight="bold">5</text><path d="M478 0V1170L140 959V1180L493 1409H759V0Z" transform="translate(0.00 0) scale(0.01221 -0.01221)" fill="#000" stroke="none"/></g>
<g transform="translate(870.90 619.00) scale(0.9600 1)"><text x="13.90" y="0" font-size="25.00" font-weight="bold">4</text><path d="M478 0V1170L140 959V1180L493 1409H759V0Z" transform="translate(0.00 0) scale(0.01221 -0.01221)" fill="#000" stroke="none"/></g>
<g transform="translate(924.39 619.00) scale(0.9600 1)"><text x="13.90" y="0" font-size="25.00" font-weight="bold">3</text><path d="M478 0V1170L140 959V1180L493 1409H759V0Z" transform="translate(0.00 0) scale(0.01221 -0.01221)" fill="#000" stroke="none"/></g>
<g transform="translate(972.56 619.00) scale(0.9600 1)"><text x="13.90" y="0" font-size="25.00" font-weight="bold">2</text><path d="M478 0V1170L140 959V1180L493 1409H759V0Z" transform="translate(0.00 0) scale(0.01221 -0.01221)" fill="#000" stroke="none"/></g>
<g transform="translate(1021.81 619.00) scale(0.9600 1)"><path d="M478 0V1170L140 959V1180L493 1409H759V0Z" transform="translate(0.00 0) scale(0.01221 -0.01221)" fill="#000" stroke="none"/><path d="M478 0V1170L140 959V1180L493 1409H759V0Z" transform="translate(13.90 0) scale(0.01221 -0.01221)" fill="#000" stroke="none"/></g>
<g transform="translate(1067.32 619.00) scale(0.9600 1)"><text x="13.90" y="0" font-size="25.00" font-weight="bold">0</text><path d="M478 0V1170L140 959V1180L493 1409H759V0Z" transform="translate(0.00 0) scale(0.01221 -0.01221)" fill="#000" stroke="none"/></g>
<text x="0" y="0" font-size="25.00" font-weight="bold" transform="translate(1121.23 619.00) scale(0.9600 1)">9</text>
<text x="0" y="0" font-size="25.00" font-weight="bold" transform="translate(1168.31 619.00) scale(0.9600 1)">8</text>
<text x="0" y="0" font-size="25.00" font-weight="bold" transform="translate(1216.21 619.00) scale(0.9600 1)">7</text>
<text x="0" y="0" font-size="25.00" font-weight="bold" transform="translate(1263.95 619.00) scale(0.9600 1)">6</text>
<text x="0" y="0" font-size="25.00" font-weight="bold" transform="translate(1312.04 619.00) scale(0.9600 1)">5</text>
<text x="0" y="0" font-size="25.00" font-weight="bold" transform="translate(1360.46 619.00) scale(0.9600 1)">4</text>
<text x="0" y="0" font-size="25.00" font-weight="bold" transform="translate(1408.73 619.00) scale(0.9600 1)">3</text>
<text x="0" y="0" font-size="25.00" font-weight="bold" transform="translate(1456.77 619.00) scale(0.9600 1)">2</text>
<g transform="translate(1505.61 619.00) scale(0.9600 1)"><path d="M478 0V1170L140 959V1180L493 1409H759V0Z" transform="translate(0.00 0) scale(0.01221 -0.01221)" fill="#000" stroke="none"/></g>
<text x="0" y="0" font-size="25.00" font-weight="bold" transform="translate(825.87 652.00) scale(0.9600 1)">30</text>
<text x="0" y="0" font-size="25.00" font-weight="bold" transform="translate(871.68 652.00) scale(0.9600 1)">29</text>
<text x="0" y="0" font-size="25.00" font-weight="bold" transform="translate(924.73 652.00) scale(0.9600 1)">28</text>
<text x="0" y="0" font-size="25.00" font-weight="bold" transform="translate(973.01 652.00) scale(0.9600 1)">27</text>
<text x="0" y="0" font-size="25.00" font-weight="bold" transform="translate(1020.42 652.00) scale(0.9600 1)">26</text>
<text x="0" y="0" font-size="25.00" font-weight="bold" transform="translate(1067.57 652.00) scale(0.9600 1)">25</text>
<text x="0" y="0" font-size="25.00" font-weight="bold" transform="translate(1114.18 652.00) scale(0.9600 1)">24</text>
<text x="0" y="0" font-size="25.00" font-weight="bold" transform="translate(1161.67 652.00) scale(0.9600 1)">23</text>
<text x="0" y="0" font-size="25.00" font-weight="bold" transform="translate(1209.59 652.00) scale(0.9600 1)">22</text>
<g transform="translate(1259.09 652.00) scale(0.9600 1)"><text x="0.00" y="0" font-size="25.00" font-weight="bold">2</text><path d="M478 0V1170L140 959V1180L493 1409H759V0Z" transform="translate(13.90 0) scale(0.01221 -0.01221)" fill="#000" stroke="none"/></g>
<text x="0" y="0" font-size="25.00" font-weight="bold" transform="translate(1305.48 652.00) scale(0.9600 1)">20</text>
<g transform="translate(1353.53 652.00) scale(0.9600 1)"><text x="13.90" y="0" font-size="25.00" font-weight="bold">9</text><path d="M478 0V1170L140 959V1180L493 1409H759V0Z" transform="translate(0.00 0) scale(0.01221 -0.01221)" fill="#000" stroke="none"/></g>
<g transform="translate(1401.45 652.00) scale(0.9600 1)"><text x="13.90" y="0" font-size="25.00" font-weight="bold">8</text><path d="M478 0V1170L140 959V1180L493 1409H759V0Z" transform="translate(0.00 0) scale(0.01221 -0.01221)" fill="#000" stroke="none"/></g>
<g transform="translate(1449.73 652.00) scale(0.9600 1)"><text x="13.90" y="0" font-size="25.00" font-weight="bold">7</text><path d="M478 0V1170L140 959V1180L493 1409H759V0Z" transform="translate(0.00 0) scale(0.01221 -0.01221)" fill="#000" stroke="none"/></g>
<g transform="translate(1497.14 652.00) scale(0.9600 1)"><text x="13.90" y="0" font-size="25.00" font-weight="bold">6</text><path d="M478 0V1170L140 959V1180L493 1409H759V0Z" transform="translate(0.00 0) scale(0.01221 -0.01221)" fill="#000" stroke="none"/></g>
<text x="0" y="0" font-size="25.00" font-weight="bold" transform="translate(825.80 694.00) scale(0.9600 1)">45</text>
<text x="0" y="0" font-size="25.00" font-weight="bold" transform="translate(875.54 694.00) scale(0.9600 1)">44</text>
<text x="0" y="0" font-size="25.00" font-weight="bold" transform="translate(925.03 694.00) scale(0.9600 1)">43</text>
<text x="0" y="0" font-size="25.00" font-weight="bold" transform="translate(973.20 694.00) scale(0.9600 1)">42</text>
<g transform="translate(1022.45 694.00) scale(0.9600 1)"><text x="0.00" y="0" font-size="25.00" font-weight="bold">4</text><path d="M478 0V1170L140 959V1180L493 1409H759V0Z" transform="translate(13.90 0) scale(0.01221 -0.01221)" fill="#000" stroke="none"/></g>
<text x="0" y="0" font-size="25.00" font-weight="bold" transform="translate(1067.96 694.00) scale(0.9600 1)">40</text>
<text x="0" y="0" font-size="25.00" font-weight="bold" transform="translate(1114.70 694.00) scale(0.9600 1)">39</text>
<text x="0" y="0" font-size="25.00" font-weight="bold" transform="translate(1161.75 694.00) scale(0.9600 1)">38</text>
<text x="0" y="0" font-size="25.00" font-weight="bold" transform="translate(1209.78 694.00) scale(0.9600 1)">37</text>
<text x="0" y="0" font-size="25.00" font-weight="bold" transform="translate(1257.44 694.00) scale(0.9600 1)">36</text>
<text x="0" y="0" font-size="25.00" font-weight="bold" transform="translate(1305.46 694.00) scale(0.9600 1)">35</text>
<text x="0" y="0" font-size="25.00" font-weight="bold" transform="translate(1353.69 694.00) scale(0.9600 1)">34</text>
<text x="0" y="0" font-size="25.00" font-weight="bold" transform="translate(1402.06 694.00) scale(0.9600 1)">33</text>
<text x="0" y="0" font-size="25.00" font-weight="bold" transform="translate(1450.23 694.00) scale(0.9600 1)">32</text>
<g transform="translate(1499.48 694.00) scale(0.9600 1)"><text x="0.00" y="0" font-size="25.00" font-weight="bold">3</text><path d="M478 0V1170L140 959V1180L493 1409H759V0Z" transform="translate(13.90 0) scale(0.01221 -0.01221)" fill="#000" stroke="none"/></g>
<text x="0" y="0" font-size="25.00" font-weight="bold" transform="translate(825.71 730.00) scale(0.9600 1)">60</text>
<text x="0" y="0" font-size="25.00" font-weight="bold" transform="translate(875.73 730.00) scale(0.9600 1)">59</text>
<text x="0" y="0" font-size="25.00" font-weight="bold" transform="translate(924.78 730.00) scale(0.9600 1)">58</text>
<text x="0" y="0" font-size="25.00" font-weight="bold" transform="translate(973.06 730.00) scale(0.9600 1)">57</text>
<text x="0" y="0" font-size="25.00" font-weight="bold" transform="translate(1020.47 730.00) scale(0.9600 1)">56</text>
<text x="0" y="0" font-size="25.00" font-weight="bold" transform="translate(1067.62 730.00) scale(0.9600 1)">55</text>
<text x="0" y="0" font-size="25.00" font-weight="bold" transform="translate(1114.22 730.00) scale(0.9600 1)">54</text>
<text x="0" y="0" font-size="25.00" font-weight="bold" transform="translate(1161.72 730.00) scale(0.9600 1)">53</text>
<text x="0" y="0" font-size="25.00" font-weight="bold" transform="translate(1209.64 730.00) scale(0.9600 1)">52</text>
<g transform="translate(1259.13 730.00) scale(0.9600 1)"><text x="0.00" y="0" font-size="25.00" font-weight="bold">5</text><path d="M478 0V1170L140 959V1180L493 1409H759V0Z" transform="translate(13.90 0) scale(0.01221 -0.01221)" fill="#000" stroke="none"/></g>
<text x="0" y="0" font-size="25.00" font-weight="bold" transform="translate(1305.53 730.00) scale(0.9600 1)">50</text>
<text x="0" y="0" font-size="25.00" font-weight="bold" transform="translate(1354.17 730.00) scale(0.9600 1)">49</text>
<text x="0" y="0" font-size="25.00" font-weight="bold" transform="translate(1402.09 730.00) scale(0.9600 1)">48</text>
<text x="0" y="0" font-size="25.00" font-weight="bold" transform="translate(1450.37 730.00) scale(0.9600 1)">47</text>
<text x="0" y="0" font-size="25.00" font-weight="bold" transform="translate(1497.78 730.00) scale(0.9600 1)">46</text>
<path d="M32.4,742.2 C32.63,743.58 32.72,747.53 33.8,750.5 C34.88,753.47 35.65,756.02 38.9,760 C42.15,763.98 44.88,769.48 53.3,774.4 C61.72,779.32 77.45,785.23 89.4,789.5 C101.35,793.77 113.23,797 125,800 C136.77,803 147.92,804.25 160,807.5 C172.08,810.75 187,815.5 197.5,819.5 C208,823.5 216.25,826.75 223,831.5 C229.75,836.25 233.5,841.83 238,848 C242.5,854.17 248,865.08 250,868.5" stroke-width="2.3" fill="none" />
<path d="M807.4,742.2 C807.63,743.58 807.72,747.53 808.8,750.5 C809.88,753.47 810.65,756.02 813.9,760 C817.15,763.98 819.88,769.48 828.3,774.4 C836.72,779.32 852.45,785.23 864.4,789.5 C876.35,793.77 888.23,797 900,800 C911.77,803 922.92,804.25 935,807.5 C947.08,810.75 962,815.5 972.5,819.5 C983,823.5 991.25,826.75 998,831.5 C1004.75,836.25 1008.5,841.83 1013,848 C1017.5,854.17 1023,865.08 1025,868.5" stroke-width="2.3" fill="none" />
<path d="M177.25,764 C180.38,767.75 188.38,780 196,786.5 C203.62,793 215,798.75 223,803 C231,807.25 237,808.25 244,812 C251,815.75 259,820.75 265,825.5 C271,830.25 275,833.25 280,840.5 C285,847.75 292.5,864.25 295,869" stroke-width="2.3" fill="none" />
<path d="M952.25,764 C955.38,767.75 963.38,780 971,786.5 C978.62,793 990,798.75 998,803 C1006,807.25 1012,808.25 1019,812 C1026,815.75 1034,820.75 1040,825.5 C1046,830.25 1050,833.25 1055,840.5 C1060,847.75 1067.5,864.25 1070,869" stroke-width="2.3" fill="none" />
<path d="M249.25,764.75 C250.88,768.62 253.88,781.88 259,788 C264.12,794.12 272.75,797.75 280,801.5 C287.25,805.25 295.25,807 302.5,810.5 C309.75,814 318.25,818 323.5,822.5 C328.75,827 331.62,829.67 334,837.5 C336.38,845.33 337.12,864.17 337.75,869.5" stroke-width="2.3" fill="none" />
<path d="M1024.25,764.75 C1025.88,768.62 1028.88,781.88 1034,788 C1039.12,794.12 1047.75,797.75 1055,801.5 C1062.25,805.25 1070.25,807 1077.5,810.5 C1084.75,814 1093.25,818 1098.5,822.5 C1103.75,827 1106.62,829.67 1109,837.5 C1111.38,845.33 1112.12,864.17 1112.75,869.5" stroke-width="2.3" fill="none" />
<path d="M319,770 C320,773 320.25,780.75 325,788 C329.75,795.25 341,807.75 347.5,813.5 C354,819.25 359.75,818.25 364,822.5 C368.25,826.75 370.88,831.25 373,839 C375.12,846.75 376.12,864 376.75,869" stroke-width="2.3" fill="none" />
<path d="M1094,770 C1095,773 1095.25,780.75 1100,788 C1104.75,795.25 1116,807.75 1122.5,813.5 C1129,819.25 1134.75,818.25 1139,822.5 C1143.25,826.75 1145.88,831.25 1148,839 C1150.12,846.75 1151.12,864 1151.75,869" stroke-width="2.3" fill="none" />
<path d="M505,769.25 C504.5,771.38 504.5,776.88 502,782 C499.5,787.12 495.5,794.25 490,800 C484.5,805.75 475,811.25 469,816.5 C463,821.75 457.62,822.75 454,831.5 C450.38,840.25 448.38,862.75 447.25,869" stroke-width="2.3" fill="none" />
<path d="M1280,769.25 C1279.5,771.38 1279.5,776.88 1277,782 C1274.5,787.12 1270.5,794.25 1265,800 C1259.5,805.75 1250,811.25 1244,816.5 C1238,821.75 1232.62,822.75 1229,831.5 C1225.38,840.25 1223.38,862.75 1222.25,869" stroke-width="2.3" fill="none" />
<path d="M574.75,764.75 C573.62,768.12 572.12,779.12 568,785 C563.88,790.88 556.75,795.62 550,800 C543.25,804.38 535.5,807.25 527.5,811.25 C519.5,815.25 508.25,818.88 502,824 C495.75,829.12 492.62,834.42 490,842 C487.38,849.58 486.88,864.92 486.25,869.5" stroke-width="2.3" fill="none" />
<path d="M1349.75,764.75 C1348.62,768.12 1347.12,779.12 1343,785 C1338.88,790.88 1331.75,795.62 1325,800 C1318.25,804.38 1310.5,807.25 1302.5,811.25 C1294.5,815.25 1283.25,818.88 1277,824 C1270.75,829.12 1267.62,834.42 1265,842 C1262.38,849.58 1261.88,864.92 1261.25,869.5" stroke-width="2.3" fill="none" />
<path d="M627.25,764 C625.88,768 623.12,782 619,788 C614.88,794 610.25,795.5 602.5,800 C594.75,804.5 581.75,809.75 572.5,815 C563.25,820.25 554.5,825.5 547,831.5 C539.5,837.5 532.12,844.67 527.5,851 C522.88,857.33 520.62,866.42 519.25,869.5" stroke-width="2.3" fill="none" />
<path d="M1402.25,764 C1400.88,768 1398.12,782 1394,788 C1389.88,794 1385.25,795.5 1377.5,800 C1369.75,804.5 1356.75,809.75 1347.5,815 C1338.25,820.25 1329.5,825.5 1322,831.5 C1314.5,837.5 1307.12,844.67 1302.5,851 C1297.88,857.33 1295.62,866.42 1294.25,869.5" stroke-width="2.3" fill="none" />
<path d="M767.5,742.5 C766.67,745.42 767.5,754.17 762.5,760 C757.5,765.83 747.08,772.67 737.5,777.5 C727.92,782.33 716.25,785.12 705,789 C693.75,792.88 680.83,797.79 670,800.75 C659.17,803.71 650,803.88 640,806.75 C630,809.62 620,813.62 610,818 C600,822.38 587.5,828 580,833 C572.5,838 569.5,842 565,848 C560.5,854 555,865.5 553,869" stroke-width="2.3" fill="none" />
<path d="M1542.5,742.5 C1541.67,745.42 1542.5,754.17 1537.5,760 C1532.5,765.83 1522.08,772.67 1512.5,777.5 C1502.92,782.33 1491.25,785.12 1480,789 C1468.75,792.88 1455.83,797.79 1445,800.75 C1434.17,803.71 1425,803.88 1415,806.75 C1405,809.62 1395,813.62 1385,818 C1375,822.38 1362.5,828 1355,833 C1347.5,838 1344.5,842 1340,848 C1335.5,854 1330,865.5 1328,869" stroke-width="2.3" fill="none" />
<rect x="90.3" y="904.2" width="87.3" height="61.6" stroke-width="2.4" rx="0" fill="none"/>
<rect x="179.3" y="909.5" width="6.8" height="52.2" stroke-width="2.2" rx="0" fill="none"/>
<path d="M186.5,921 L198,921 Q213,921 216.3,936 L223,975.5" stroke-width="1.6" fill="none" />
<path d="M186.5,924 L196.5,924 Q210.25,924 213.28,937.75 L220.38,976.94" stroke-width="1.6" fill="none" />
<path d="M186.5,927 L195,927 Q207.5,927 210.25,939.5 L217.75,978.38" stroke-width="1.6" fill="none" />
<path d="M186.5,930 L193.5,930 Q204.75,930 207.22,941.25 L215.12,979.81" stroke-width="1.6" fill="none" />
<path d="M186.5,933 L192,933 Q202,933 204.2,943 L212.5,981.25" stroke-width="1.6" fill="none" />
<path d="M186.5,936 L190.5,936 Q199.25,936 201.18,944.75 L209.88,982.69" stroke-width="1.6" fill="none" />
<path d="M186.5,939 L189,939 Q196.5,939 198.15,946.5 L207.25,984.12" stroke-width="1.6" fill="none" />
<path d="M186.5,942 L187.5,942 Q193.75,942 195.12,948.25 L204.62,985.56" stroke-width="1.6" fill="none" />
<path d="M186.5,945 L186,945 Q191,945 192.1,950 L202,987" stroke-width="1.6" fill="none" />
<line x1="230" y1="934" x2="259" y2="934" stroke-width="2.2" stroke-linecap="butt"/>
<polygon points="221,934 232,929.5 232,938.5" fill="#000" stroke="none"/>
<text x="0" y="0" font-size="24.71" font-weight="bold" transform="translate(261.20 943.00) scale(0.9772 1)">A</text>
<rect x="245.5" y="1042.5" width="1173.5" height="188.2" stroke-width="5" rx="0" fill="none"/>
<line x1="243" y1="1096.5" x2="1421" y2="1096.5" stroke-width="5" stroke-linecap="butt"/>
<line x1="243" y1="1151.5" x2="1421" y2="1151.5" stroke-width="5" stroke-linecap="butt"/>
<line x1="689.5" y1="1042" x2="689.5" y2="1231" stroke-width="5" stroke-linecap="butt"/>
<line x1="1026" y1="1042" x2="1026" y2="1231" stroke-width="5" stroke-linecap="butt"/>
<text x="0" y="0" font-size="21.00" font-weight="normal" style="stroke:#000;stroke-width:0.23;stroke-linejoin:round" transform="translate(260.59 1077.50) scale(1.3098 1)">[A]:</text>
<text x="0" y="0" font-size="21.00" font-weight="normal" style="stroke:#000;stroke-width:0.28;stroke-linejoin:round" transform="translate(327.50 1077.50) scale(1.0743 1)">ECM connector (View: A)</text>
<text x="0" y="0" font-size="21.00" font-weight="normal" style="stroke:#000;stroke-width:0.27;stroke-linejoin:round" transform="translate(266.60 1132.00) scale(1.1061 1)">A1:</text>
<text x="0" y="0" font-size="21.00" font-weight="normal" style="stroke:#000;stroke-width:0.27;stroke-linejoin:round" transform="translate(328.20 1132.00) scale(1.0921 1)">Generator control signal circuit</text>
<text x="0" y="0" font-size="21.00" font-weight="normal" style="stroke:#000;stroke-width:0.26;stroke-linejoin:round" transform="translate(265.16 1187.00) scale(1.1549 1)">B1:</text>
<text x="0" y="0" font-size="21.00" font-weight="normal" style="stroke:#000;stroke-width:0.27;stroke-linejoin:round" transform="translate(328.19 1187.00) scale(1.0997 1)">Generator field coil monitor signal</text>
<text x="0" y="0" font-size="21.00" font-weight="normal" style="stroke:#000;stroke-width:0.27;stroke-linejoin:round" transform="translate(328.36 1210.30) scale(1.1043 1)">circuit</text>
<text x="0" y="0" font-size="21.00" font-weight="normal" style="stroke:#000;stroke-width:0.25;stroke-linejoin:round" transform="translate(711.73 1077.00) scale(1.2003 1)">1.</text>
<text x="0" y="0" font-size="21.00" font-weight="normal" style="stroke:#000;stroke-width:0.28;stroke-linejoin:round" transform="translate(758.82 1077.00) scale(1.0704 1)">Generator</text>
<text x="0" y="0" font-size="21.00" font-weight="normal" style="stroke:#000;stroke-width:0.26;stroke-linejoin:round" transform="translate(712.43 1132.00) scale(1.1554 1)">2.</text>
<text x="0" y="0" font-size="21.00" font-weight="normal" style="stroke:#000;stroke-width:0.27;stroke-linejoin:round" transform="translate(758.90 1132.00) scale(1.1009 1)">Stator coil</text>
<text x="0" y="0" font-size="21.00" font-weight="normal" style="stroke:#000;stroke-width:0.26;stroke-linejoin:round" transform="translate(712.74 1187.00) scale(1.1354 1)">3.</text>
<text x="0" y="0" font-size="21.00" font-weight="normal" style="stroke:#000;stroke-width:0.28;stroke-linejoin:round" transform="translate(758.11 1187.00) scale(1.0685 1)">Field coil</text>
<text x="0" y="0" font-size="21.00" font-weight="normal" style="stroke:#000;stroke-width:0.27;stroke-linejoin:round" transform="translate(1048.62 1077.00) scale(1.1049 1)">4.</text>
<text x="0" y="0" font-size="21.00" font-weight="normal" style="stroke:#000;stroke-width:0.27;stroke-linejoin:round" transform="translate(1093.96 1077.00) scale(1.1293 1)">I.C. regulator</text>
<text x="0" y="0" font-size="21.00" font-weight="normal" style="stroke:#000;stroke-width:0.27;stroke-linejoin:round" transform="translate(1048.20 1132.00) scale(1.1318 1)">5.</text>
<text x="0" y="0" font-size="21.00" font-weight="normal" style="stroke:#000;stroke-width:0.27;stroke-linejoin:round" transform="translate(1095.63 1132.00) scale(1.1007 1)">To battery</text>
<text x="0" y="0" font-size="21.00" font-weight="normal" style="stroke:#000;stroke-width:0.26;stroke-linejoin:round" transform="translate(1047.92 1187.00) scale(1.1494 1)">6.</text>
<text x="0" y="0" font-size="21.00" font-weight="normal" style="stroke:#000;stroke-width:0.31;stroke-linejoin:round" transform="translate(1094.49 1187.00) scale(0.9648 1)">ECM</text>
</svg>
</body></html>
